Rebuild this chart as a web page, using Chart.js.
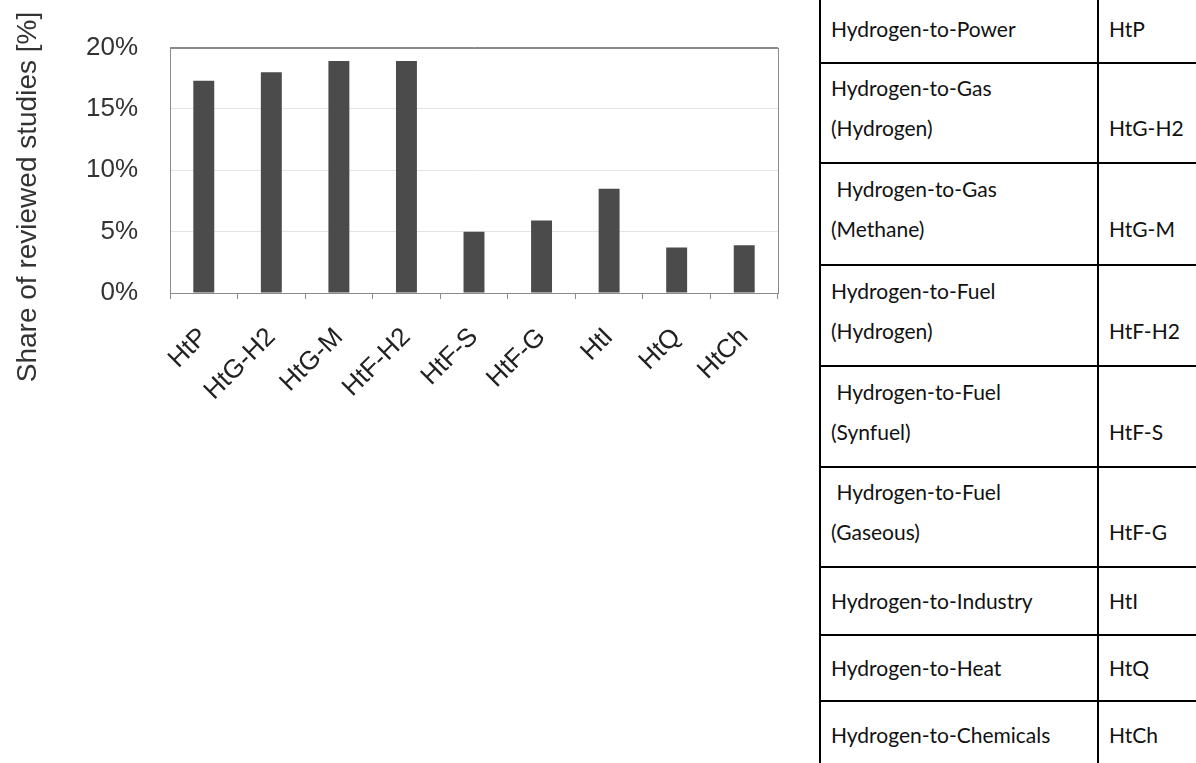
<!DOCTYPE html>
<html>
<head>
<meta charset="utf-8">
<script src="https://cdn.jsdelivr.net/npm/chart.js@4.4.1/dist/chart.umd.min.js"></script>
<style>
  html, body { margin: 0; padding: 0; background: #ffffff; width: 1196px; height: 763px; overflow: hidden; position: relative; }
  #chartBox { position: absolute; left: 0; top: 0; width: 800px; height: 420px; }
  #tableClip { position: absolute; left: 819px; top: -7px; width: 377px; height: 780px; overflow: hidden; }
  #legendTable { width: 440px; min-width: 440px; table-layout: fixed; border-collapse: collapse; font-family: Lato, "Open Sans", sans-serif; font-size: 21px; color: #111; }
  #legendTable td { border: 2px solid #000; padding: 0 10px; line-height: 40px; vertical-align: middle; white-space: nowrap; overflow: hidden; }
  #legendTable td:last-child { border-right: 2px solid #fff; }
  #legendTable tr.two td { padding-bottom: 10px; }
</style>
</head>
<body>
<div id="chartBox"><canvas id="c" width="800" height="420"></canvas></div>
<div id="tableClip">
<table id="legendTable"><colgroup><col style="width:278px"><col style="width:162px"></colgroup><tbody id="tb"></tbody></table>
</div>
<script>
// ---- data ----
const categories = ["HtP", "HtG-H2", "HtG-M", "HtF-H2", "HtF-S", "HtF-G", "HtI", "HtQ", "HtCh"];
const shareValues = [17.3, 18.0, 18.9, 18.9, 5.0, 5.9, 8.5, 3.7, 3.9];
const yTickValues = [0, 5, 10, 15, 20];
const fullNamesLine1 = ["Hydrogen-to-Power", "Hydrogen-to-Gas", "\u00a0Hydrogen-to-Gas", "Hydrogen-to-Fuel", "\u00a0Hydrogen-to-Fuel", "\u00a0Hydrogen-to-Fuel", "Hydrogen-to-Industry", "Hydrogen-to-Heat", "Hydrogen-to-Chemicals"];
const fullNamesLine2 = ["", "(Hydrogen)", "(Methane)", "(Hydrogen)", "(Synfuel)", "(Gaseous)", "", "", ""];
const abbreviations = ["HtP", "HtG-H2", "HtG-M", "HtF-H2", "HtF-S", "HtF-G", "HtI", "HtQ", "HtCh"];
const yAxisTitle = "Share of reviewed studies [%]";

// ---- table ----
const rowHeights = [69, 100, 102, 101, 101, 100, 68, 66, 67];
const tb = document.getElementById('tb');
fullNamesLine1.forEach((l1, i) => {
  const tr = document.createElement('tr');
  tr.style.height = rowHeights[i] + 'px';
  const two = fullNamesLine2[i] !== "";
  if (two) tr.className = 'two';
  const td1 = document.createElement('td');
  td1.innerHTML = two ? (l1 + '<br>' + fullNamesLine2[i]) : l1;
  const td2 = document.createElement('td');
  td2.innerHTML = two ? ('&nbsp;<br>' + abbreviations[i]) : abbreviations[i];
  tr.appendChild(td1); tr.appendChild(td2);
  tb.appendChild(tr);
});

// ---- chart ----
const FONT = "'Liberation Sans', Arial, sans-serif";
const frameColor = '#8a8a8a';

const framePlugin = {
  id: 'frame',
  afterDraw(chart) {
    const {ctx, chartArea: a} = chart;
    ctx.save();
    ctx.strokeStyle = frameColor;
    ctx.lineWidth = 1;
    ctx.strokeRect(Math.round(a.left) + 0.5, Math.round(a.top) + 0.5, Math.round(a.right - a.left), Math.round(a.bottom - a.top));
    // y axis title
    ctx.translate(28, 197);
    ctx.rotate(-Math.PI / 2);
    ctx.fillStyle = '#333';
    ctx.font = "28px " + FONT;
    ctx.textAlign = 'center';
    ctx.textBaseline = 'middle';
    ctx.fillText(yAxisTitle, 0, 0);
    ctx.restore();
  }
};

new Chart(document.getElementById('c'), {
  type: 'bar',
  data: {
    labels: categories,
    datasets: [{
      data: shareValues,
      backgroundColor: '#4b4b4b',
      borderWidth: 0,
      categoryPercentage: 1.0,
      barPercentage: 0.31
    }]
  },
  options: {
    responsive: false,
    animation: false,
    layout: { padding: { top: 45, right: 22, left: 0, bottom: 0 } },
    plugins: { legend: { display: false }, tooltip: { enabled: false } },
    scales: {
      x: {
        grid: { offset: true, drawOnChartArea: false, drawTicks: true, tickLength: 6, color: frameColor },
        border: { color: frameColor },
        ticks: { minRotation: 45, maxRotation: 45, autoSkip: false, padding: 23, color: '#222', font: { family: FONT, size: 26 } },
        afterFit(scale) { scale.height = 127; }
      },
      y: {
        min: 0, max: 20,
        afterBuildTicks(scale) { scale.ticks = yTickValues.map(v => ({ value: v })); },
        grid: { drawTicks: false, color: (c) => (c.tick && c.tick.value === 20) ? frameColor : '#e4e4e4' },
        border: { color: frameColor },
        ticks: { padding: 32, color: '#333', font: { family: FONT, size: 26 }, callback: (v) => v + '%' },
        afterFit(scale) { scale.width = 170; }
      }
    }
  },
  plugins: [framePlugin]
});
</script>
</body>
</html>
